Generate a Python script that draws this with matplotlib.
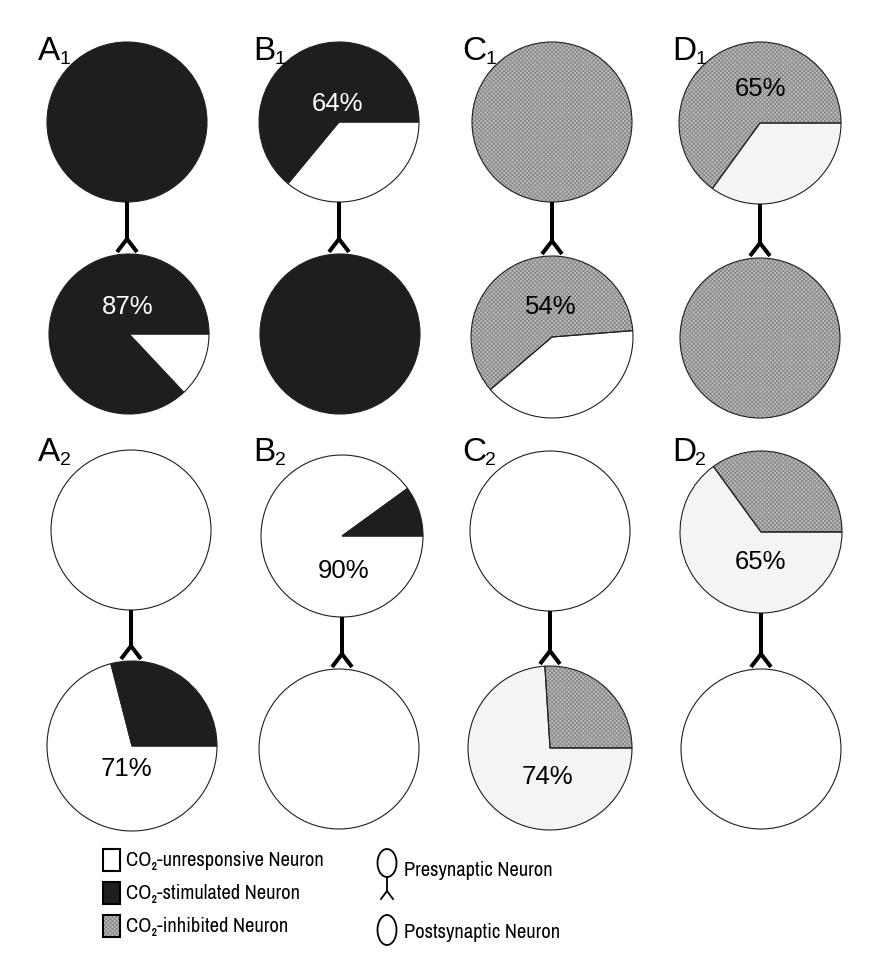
import matplotlib.pyplot as plt
from matplotlib import font_manager
from matplotlib.patches import Rectangle, Ellipse

plt.rcParams['font.family'] = ['Liberation Sans', 'DejaVu Sans']
plt.rcParams['hatch.linewidth'] = 0.7

W, H = 873, 970

# fills for each kind of neuron
FILL = {'u': '#ffffff', 'l': '#f4f4f4', 's': '#1e1e1e', 'i': '#bfbfbf'}
HATCH = {'u': None, 'l': None, 's': None, 'i': 'xxxxxxxx'}

panels = ['A', 'B', 'C', 'D']

# slices go counterclockwise from the start angle
row1_pre_vals = [[100], [64, 36], [100], [65, 35]]
row1_pre_kinds = [['s'], ['s', 'u'], ['i'], ['i', 'l']]
row1_pre_pct = ['', '64%', '', '65%']
row1_post_vals = [[87, 13], [100], [60, 40], [100]]
row1_post_kinds = [['s', 'u'], ['s'], ['i', 'u'], ['i']]
row1_post_pct = ['87%', '', '54%', '']
row1_post_start = [0, 0, 4.5, 0]

row2_pre_vals = [[100], [10, 90], [100], [35, 65]]
row2_pre_kinds = [['u'], ['s', 'u'], ['u'], ['i', 'l']]
row2_pre_pct = ['', '90%', '', '65%']
row2_post_vals = [[29, 71], [100], [26, 74], [100]]
row2_post_kinds = [['s', 'u'], ['u'], ['i', 'l'], ['u']]
row2_post_pct = ['71%', '', '74%', '']
row2_post_start = [0, 0, 0, 0]

legend_labels = ['CO\u2082-unresponsive Neuron', 'CO\u2082-stimulated Neuron',
                 'CO\u2082-inhibited Neuron']
legend_kinds = ['u', 's', 'i']

# layout (pixels, y down)
r1_pre_xy = [(127, 123, 80), (339, 123, 80), (552, 123, 80), (760, 124, 81)]
r1_post_xy = [(129, 335, 80), (340, 335, 80), (552, 338, 81), (760, 339, 80)]
r2_pre_xy = [(131, 531, 80), (342, 537, 81), (550, 532, 80), (761, 533, 81)]
r2_post_xy = [(132, 747, 85), (339, 750, 80), (550, 749, 82), (761, 750, 80)]
r1_pre_lab = [(128, 104), (337, 104), (552, 107), (761, 89)]
r1_post_lab = [(128, 307), (340, 307), (551, 307), (761, 307)]
r2_pre_lab = [(131, 531), (344, 571), (550, 532), (761, 562)]
r2_post_lab = [(126, 769), (339, 769), (547, 777), (761, 769)]
lab_x = [38, 253, 462, 672]

# narrow face for the key, if one is installed
have = {f.name for f in font_manager.fontManager.ttflist}
narrow = [f for f in ['Liberation Sans Narrow', 'Arial Narrow', 'Archivo Narrow',
                      'Roboto Condensed', 'PT Sans Narrow', 'Pragati Narrow',
                      'Open Sans Condensed', 'Fira Sans Condensed',
                      'IBM Plex Sans Condensed', 'Encode Sans Condensed'] if f in have]
key_family = narrow[:1] + ['Liberation Sans', 'DejaVu Sans']

fig = plt.figure(figsize=(W / 100, H / 100), dpi=100)
ax = fig.add_axes([0, 0, 1, 1])
ax.set_xlim(0, W)
ax.set_ylim(0, H)


def pie(vals, kinds, x, y, r, start=0):
    cols = [FILL[k] for k in kinds]
    hat = [HATCH[k] for k in kinds]
    # fill + hatch (hatch colour follows edgecolor)
    ax.pie(vals, colors=cols, hatch=hat, startangle=start, center=(x, H - y),
           radius=r, wedgeprops=dict(edgecolor='#8a8a8a', linewidth=0))
    # outlines
    ax.pie(vals, startangle=start, center=(x, H - y), radius=r,
           wedgeprops=dict(fill=False, edgecolor='#202020', linewidth=0.8))


def synapse(x, y0, y1, lw=2.9, fork=10, depth=13):
    apex = y1 - depth
    ax.plot([x, x], [H - y0, H - apex], color='black', lw=lw, solid_capstyle='butt')
    ax.plot([x - fork, x, x + fork], [H - y1, H - apex, H - y1], color='black',
            lw=lw, solid_joinstyle='miter', solid_capstyle='butt')


def pct(text, kinds, vals, x, y):
    if not text:
        return
    c = 'white' if kinds[0] == 's' and vals[0] > 50 else 'black'
    ax.text(x, H - y, text, color=c, fontsize=18.5, ha='center', va='center')


rows = [
    (row1_pre_vals, row1_pre_kinds, row1_pre_pct, r1_pre_xy, r1_pre_lab,
     row1_post_vals, row1_post_kinds, row1_post_pct, r1_post_xy, r1_post_lab,
     row1_post_start, '1', 60),
    (row2_pre_vals, row2_pre_kinds, row2_pre_pct, r2_pre_xy, r2_pre_lab,
     row2_post_vals, row2_post_kinds, row2_post_pct, r2_post_xy, r2_post_lab,
     row2_post_start, '2', 461),
]

for (pv, pk, pp, pxy, plab, qv, qk, qp, qxy, qlab, qs, sub, base) in rows:
    for i, name in enumerate(panels):
        x, y, r = pxy[i]
        pie(pv[i], pk[i], x, y, r)
        pct(pp[i], pk[i], pv[i], *plab[i])
        x2, y2, r2 = qxy[i]
        pie(qv[i], qk[i], x2, y2, r2, start=qs[i])
        pct(qp[i], qk[i], qv[i], *qlab[i])
        synapse(x, y + r, y2 - r2 - 2)
        t = ax.text(lab_x[i], H - base, name, fontsize=24, ha='left', va='baseline')
        ax.annotate(sub, xy=(1, 0), xycoords=t, xytext=(-0.5, 2.5),
                    textcoords='offset points', fontsize=14, ha='left', va='baseline')

# legend, left: neuron types
key_texts = []
for j, (lab, k) in enumerate(zip(legend_labels, legend_kinds)):
    yc = 861 + j * 33
    ax.add_patch(Rectangle((103, H - yc - 11), 17, 22, facecolor=FILL[k],
                           hatch=HATCH[k], edgecolor='#8a8a8a', linewidth=0))
    ax.add_patch(Rectangle((103, H - yc - 11), 17, 22, fill=False,
                           edgecolor='black', linewidth=1.5))
    key_texts.append(ax.text(126, H - yc, lab, fontsize=16, ha='left', va='center',
                             family=key_family))

ax.plot([387, 387], [H - 878, H - 892], color='black', lw=1.3)
ax.plot([381, 387, 393], [H - 900, H - 892, H - 900], color='black', lw=1.3)
ax.add_patch(Ellipse((387, H - 864), 19, 28, fill=False, edgecolor='black', linewidth=1.3))
key_texts.append(ax.text(404, H - 871, 'Presynaptic Neuron', fontsize=16, ha='left',
                         va='center', family=key_family))
ax.add_patch(Ellipse((387, H - 931), 19, 30, fill=False, edgecolor='black', linewidth=1.3))
key_texts.append(ax.text(404, H - 933, 'Postsynaptic Neuron', fontsize=16, ha='left',
                         va='center', family=key_family))

# size the key so the first line is about as wide as in the figure
fig.canvas.draw()
w = key_texts[0].get_window_extent().width
fs = min(17, 16 * 198 / w)
for t in key_texts:
    t.set_fontsize(fs)

ax.set_xlim(0, W)
ax.set_ylim(0, H)
ax.set_aspect('equal')
ax.axis('off')

fig.savefig('out.png', dpi=100, facecolor='white')
